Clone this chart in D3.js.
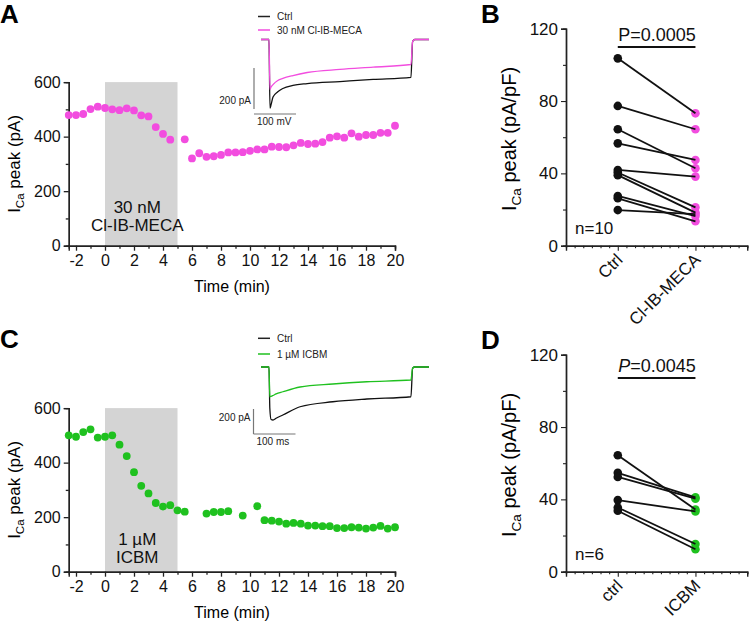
<!DOCTYPE html>
<html><head><meta charset="utf-8">
<script src="https://cdn.jsdelivr.net/npm/d3@7"></script>
<style>body{margin:0;background:#fff}svg{display:block}text{font-family:"Liberation Sans",Arial,sans-serif}</style>
</head><body>
<svg id="c" width="749" height="624"></svg>
<script>
// ---------- data ----------
const timeA = [-2.5,-2,-1.5,-1,-0.5,0,0.5,1,1.5,2,2.5,3,3.5,4,4.5,5.5,6,6.5,7,7.5,8,8.5,9,9.5,10,10.5,11,11.5,12,12.5,13,13.5,14,14.5,15,15.5,16,16.5,17,17.5,18,18.5,19,19.5,20];
const icaA = [479,479,483,501,510,505,500,497,504,496,478,474,435,410,389,390,320,339,326,328,333,342,342,343,348,353,353,363,362,361,368,377,373,374,380,396,401,396,412,400,406,406,414,414,440];
const timeC = [-2.5,-2,-1.5,-1,-0.5,0,0.5,1,1.5,2,2.5,3,3.5,4,4.5,5,5.5,7,7.5,8,8.5,9.5,10.5,11,11.5,12,12.5,13,13.5,14,14.5,15,15.5,16,16.5,17,17.5,18,18.5,19,19.5,20];
const icaC = [500,495,512,522,492,495,500,466,424,365,315,287,252,239,244,225,220,213,219,219,222,206,240,189,187,184,176,179,176,169,169,167,167,160,160,163,162,158,162,168,158,163];

const pairCatsB = ["Ctrl","Cl-IB-MECA"];
const ctrlB = [103.6,77.3,64.4,56.6,41.9,40.5,39.0,27.5,26.2,19.7];
const mecaB = [73.2,64.4,42.8,47.4,38.2,21.2,18.3,16.4,13.5,17.5];
const pairCatsD = ["ctrl","ICBM"];
const ctrlD = [64.4,54.7,52.4,39.6,35.5,33.7];
const icbmD = [34.4,41.1,40.4,33.3,15.3,12.4];

// inset traces (time in ms, current in pA)
const traceTA = [0,19,21.4,24,28.6,40,52,76,110,188,267,357,361,366,400];
const traceA_ctrl = [0,0,-335,-318,-281,-255,-239,-224,-215,-205,-195,-185,-10,0,0];
const traceA_drug = [0,0,-244,-232,-220,-200,-190,-176,-161,-146,-135,-122,-10,0,0];
const traceTC = [0,19,21,24,28.6,36,52,93,171,252,357,361,366,400];
const traceC_ctrl = [0,0,-330,-420,-424,-410,-384,-318,-278,-256,-238,-10,0,0];
const traceC_drug = [0,0,-238,-235,-228,-215,-198,-160,-136,-118,-104,-10,0,0];

const xTicksTime = [-2,0,2,4,6,8,10,12,14,16,18,20];
const yTicksTime = [0,200,400,600];
const yTicksPair = [0,40,80,120];

const PINK = "#f24ddf", GREEN = "#1fc11f", GRAY = "#d4d4d4";
const FONT = '"Liberation Sans",Arial,sans-serif';

const svg = d3.select("#c");

function panelLetter(t, x, y){
  svg.append("text").attr("x",x).attr("y",y).attr("font-size",26).attr("font-weight","bold").text(t);
}
function yTitle(g, cx, cy, main, rest, fs){
  const t = g.append("text").attr("transform",`translate(${cx},${cy}) rotate(-90)`)
    .attr("text-anchor","middle").attr("font-size",fs);
  t.append("tspan").text(main);
  t.append("tspan").attr("font-size",fs*0.68).attr("dy",fs*0.25).text("Ca");
  t.append("tspan").attr("dy",-fs*0.25).text(rest);
}

// ---------- time course panels ----------
function timePanel(opt){
  const x = d3.scaleLinear().domain([-2.5,20]).range([68.75,395]);
  const y = d3.scaleLinear().domain([0,600]).range([opt.y0, opt.y0-163.6]);
  const g = svg.append("g");
  g.append("rect").attr("x",x(0)).attr("width",x(5)-x(0)).attr("y",y(600)).attr("height",y(0)-y(600)).attr("fill",GRAY);
  // axes
  const ax = g.append("g").attr("transform",`translate(0,${y(0)})`)
    .call(d3.axisBottom(x).tickValues(xTicksTime).tickSize(5).tickPadding(4).tickFormat(d=>d<0?"-"+Math.abs(d):d));
  ax.append("g").call(d3.axisBottom(x).tickValues([-1,1,3,5,7,9,11,13,15,17,19]).tickSize(3).tickFormat(""));
  const ay = g.append("g").attr("transform",`translate(${x(-2.5)},0)`)
    .call(d3.axisLeft(y).tickValues(yTicksTime).tickSize(5).tickPadding(3));
  ay.append("g").call(d3.axisLeft(y).tickValues([100,300,500]).tickSize(3).tickFormat(""));
  [ax,ay].forEach(a=>{
    a.selectAll("path.domain").attr("stroke","#222").attr("stroke-width",1.4);
    a.selectAll("line").attr("stroke","#222").attr("stroke-width",1.3);
    a.selectAll("text").attr("font-size",16).attr("fill","#111").attr("font-family",FONT);
  });
  // points
  g.selectAll("circle.pt").data(opt.t).enter().append("circle")
    .attr("cx",(d)=>x(d)).attr("cy",(d,i)=>y(opt.v[i])).attr("r",3.9).attr("fill",opt.color);
  // labels
  g.append("text").attr("x",232).attr("y",y(0)+46).attr("text-anchor","middle").attr("font-size",16).text("Time (min)");
  yTitle(g, 20, y(300), "I", " peak (pA)", 17);
  opt.drug.forEach((s,i)=>g.append("text").attr("x",x(2.5)-4).attr("y",opt.drugY+i*18).attr("text-anchor","middle").attr("font-size",17).attr("fill","#111").text(s));
}

timePanel({y0:245.7,t:timeA,v:icaA,color:PINK,drug:["30 nM","Cl-IB-MECA"],drugY:213});
timePanel({y0:571.7,t:timeC,v:icaC,color:GREEN,drug:["1 µM","ICBM"],drugY:545});

// ---------- insets ----------
function inset(opt){
  const x = d3.scaleLinear().domain([0,400]).range([261,429]);
  const y = d3.scaleLinear().domain([-200,0]).range([opt.base+opt.bar, opt.base]);
  const g = svg.append("g");
  const line = d3.line().x((d,i)=>x(opt.t[i])).y(d=>y(d)).curve(d3.curveMonotoneX);
  g.append("path").attr("d",line(opt.ctrl)).attr("fill","none").attr("stroke","#111").attr("stroke-width",1.3);
  g.append("path").attr("d",line(opt.drug)).attr("fill","none").attr("stroke",opt.color).attr("stroke-width",1.3);
  // legend
  [["Ctrl","#222"],[opt.label,opt.color]].forEach((d,i)=>{
    const ly = opt.legY + i*opt.legGap;
    g.append("line").attr("x1",258).attr("x2",270).attr("y1",ly).attr("y2",ly).attr("stroke",d[1]).attr("stroke-width",1.5);
    g.append("text").attr("x",277).attr("y",ly+3.5).attr("font-size",10).attr("fill","#222").text(d[0]);
  });
  // scale bars
  const sx = opt.sbx;
  g.append("line").attr("x1",sx).attr("x2",sx).attr("y1",opt.sbTop).attr("y2",opt.sbTop+opt.bar).attr("stroke","#777").attr("stroke-width",1.2);
  g.append("line").attr("x1",sx).attr("x2",sx+(x(100)-x(0))).attr("y1",opt.sbH).attr("y2",opt.sbH).attr("stroke","#777").attr("stroke-width",1.2);
  g.append("text").attr("x",sx-3).attr("y",opt.pAy).attr("text-anchor","end").attr("font-size",10).attr("fill","#222").text("200 pA");
  g.append("text").attr("x",sx+3).attr("y",opt.sbH+11).attr("font-size",10).attr("fill","#222").text(opt.tLabel);
}
inset({t:traceTA,ctrl:traceA_ctrl,drug:traceA_drug,base:39.5,bar:41,color:PINK,label:"30 nM Cl-IB-MECA",
  legY:16.5,legGap:13.5,sbx:254,sbTop:68,sbH:114,pAy:104,tLabel:"100 mV"});
inset({t:traceTC,ctrl:traceC_ctrl,drug:traceC_drug,base:367,bar:25,color:GREEN,label:"1 µM ICBM",
  legY:338.3,legGap:15.7,sbx:253.5,sbTop:409,sbH:434,pAy:420.5,tLabel:"100 ms"});

// ---------- paired panels ----------
function pairPanel(opt){
  const x = d3.scaleLinear().domain([0,21]).range([566,566+21*8.63]);
  const y = d3.scaleLinear().domain([0,120]).range([opt.y0, opt.y0-217]);
  const cx = [6,15];
  const g = svg.append("g");
  const ay = g.append("g").attr("transform",`translate(566,0)`)
    .call(d3.axisLeft(y).tickValues(yTicksPair).tickSize(5).tickPadding(3));
  ay.append("g").call(d3.axisLeft(y).tickValues([20,60,100]).tickSize(3).tickFormat(""));
  const minors = d3.range(1,22).filter(v=>!cx.includes(v));
  const ax = g.append("g").attr("transform",`translate(0,${y(0)})`)
    .call(d3.axisBottom(x).tickValues(cx).tickSize(5).tickFormat(""));
  ax.append("g").call(d3.axisBottom(x).tickValues(minors).tickSize(2.5).tickFormat(""));
  [ax,ay].forEach(a=>{
    a.selectAll("path.domain").attr("stroke","#222").attr("stroke-width",1.4);
    a.selectAll("line").attr("stroke","#222").attr("stroke-width",1.1);
    a.selectAll("text").attr("font-size",17).attr("fill","#111").attr("font-family",FONT);
  });
  // category labels
  opt.cats.forEach((c,i)=>{
    g.append("text").attr("transform",`translate(${x(cx[i])+6},${y(0)+15}) rotate(-45)`)
      .attr("text-anchor","end").attr("font-size",17).attr("fill","#111").text(c);
  });
  // dots
  g.selectAll("circle.a").data(opt.a).enter().append("circle").attr("cx",x(cx[0])).attr("cy",d=>y(d)).attr("r",4.3).attr("fill","#111");
  g.selectAll("circle.b").data(opt.b).enter().append("circle").attr("cx",x(cx[1])).attr("cy",d=>y(d)).attr("r",4.3).attr("fill",opt.color);
  // connecting lines
  opt.a.forEach((v,i)=>{
    g.append("line").attr("x1",x(cx[0])).attr("y1",y(v)).attr("x2",x(cx[1])).attr("y2",y(opt.b[i]))
      .attr("stroke","#111").attr("stroke-width",1.8);
  });
  // p value
  const pt = g.append("text").attr("x",657).attr("y",opt.pY).attr("text-anchor","middle").attr("font-size",18).attr("fill","#111");
  pt.append("tspan").attr("font-style",opt.italic?"italic":"normal").text("P");
  pt.append("tspan").text("=" + opt.p);
  g.append("line").attr("x1",x(cx[0])).attr("x2",x(cx[1])).attr("y1",opt.pY+6).attr("y2",opt.pY+6).attr("stroke","#111").attr("stroke-width",2);
  g.append("text").attr("x",575).attr("y",y(0)-12).attr("font-size",17).attr("fill","#111").text(opt.n);
  yTitle(g, 516, y(59), "I", " peak (pA/pF)", 20);
}
pairPanel({y0:245.7,cats:pairCatsB,a:ctrlB,b:mecaB,color:PINK,p:"0.0005",italic:false,pY:41,n:"n=10"});
pairPanel({y0:571.7,cats:pairCatsD,a:ctrlD,b:icbmD,color:GREEN,p:"0.0045",italic:true,pY:372,n:"n=6"});

panelLetter("A",0,23);
panelLetter("B",481,23);
panelLetter("C",0,348);
panelLetter("D",481,349);
</script>
</body></html>
